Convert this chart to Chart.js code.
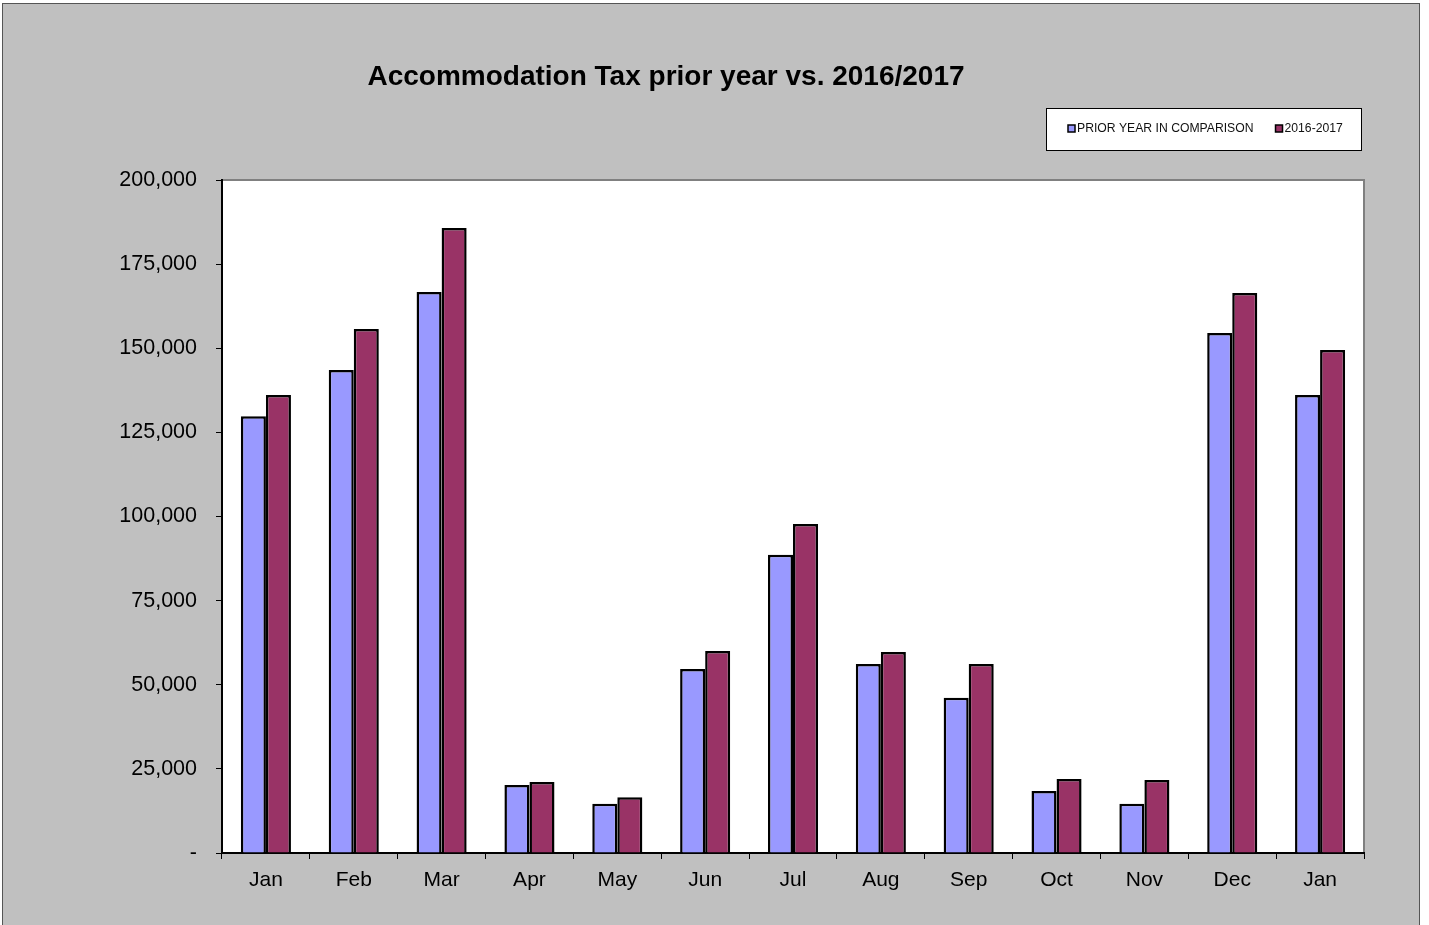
<!DOCTYPE html>
<html>
<head>
<meta charset="utf-8">
<script src="https://cdn.jsdelivr.net/npm/chart.js@4"></script>
<style>
  html, body { margin: 0; padding: 0; background: #fff; }
  #wrap { position: absolute; left: 0; top: 0; width: 1429px; height: 925px; }
</style>
</head>
<body>
<div id="wrap"><canvas id="taxchart" width="1429" height="925"></canvas></div>
<script>
const months = ['Jan','Feb','Mar','Apr','May','Jun','Jul','Aug','Sep','Oct','Nov','Dec','Jan'];
const priorYear = [129800, 143500, 166700, 20200, 14600, 54700, 88600, 56200, 46100, 18400, 14600, 154500, 136100];
const currentYear = [136100, 155700, 185700, 21100, 16600, 60000, 97800, 59700, 56200, 22000, 21700, 166400, 149500];
const seriesNames = ['PRIOR YEAR IN COMPARISON', '2016-2017'];
const chartTitle = 'Accommodation Tax prior year vs. 2016/2017';

const FONT = "Arial, 'Liberation Sans', sans-serif";

// frame, gray panel, white plot area
const backdrop = {
    id: 'backdrop',
    beforeDraw(chart) {
        const c = chart.ctx, a = chart.chartArea;
        c.save();
        c.fillStyle = '#ffffff';
        c.fillRect(0, 0, chart.width, chart.height);
        c.fillStyle = '#c0c0c0';
        c.fillRect(2, 3, 1417, 930);
        c.strokeStyle = '#555555';
        c.lineWidth = 1;
        c.strokeRect(2.5, 3.5, 1417, 930);
        c.fillStyle = '#ffffff';
        c.fillRect(a.left, a.top, a.right - a.left, a.bottom - a.top);
        c.strokeStyle = '#808080';
        c.lineWidth = 2;
        c.beginPath();
        c.moveTo(a.left, a.top);
        c.lineTo(a.right, a.top);
        c.lineTo(a.right, a.bottom);
        c.stroke();
        c.restore();
    }
};

// title and boxed legend
const titleLegend = {
    id: 'titleLegend',
    afterDraw(chart) {
        const c = chart.ctx;
        c.save();
        c.fillStyle = '#000';
        c.font = 'bold 28px ' + FONT;
        c.textAlign = 'center';
        c.textBaseline = 'middle';
        c.fillText(chartTitle, 666, 77);

        c.fillStyle = '#fff';
        c.fillRect(1046, 108, 315, 42);
        c.strokeStyle = '#000';
        c.lineWidth = 1;
        c.strokeRect(1046.5, 108.5, 315, 42);

        c.font = '12.2px ' + FONT;
        c.textAlign = 'left';
        let x = 1068;
        chart.data.datasets.forEach((ds, i) => {
            c.fillStyle = ds.backgroundColor;
            c.fillRect(x, 125, 7, 7);
            c.strokeStyle = '#000';
            c.lineWidth = 1.5;
            c.strokeRect(x, 125, 7, 7);
            c.fillStyle = '#111';
            c.fillText(ds.label, x + 9, 129);
            x += 9 + c.measureText(ds.label).width + 22;
        });
        c.restore();
    }
};

const ctx = document.getElementById('taxchart').getContext('2d');
const taxchart = new Chart(ctx, {
    type: 'bar',
    data: {
        labels: months,
        datasets: [{
            label: seriesNames[0],
            data: priorYear,
            backgroundColor: '#9999ff',
            borderColor: '#000',
            borderWidth: 2.5
        }, {
            label: seriesNames[1],
            data: currentYear,
            backgroundColor: '#993366',
            borderColor: '#000',
            borderWidth: 2.5
        }]
    },
    options: {
        responsive: false,
        animation: false,
        layout: { padding: { top: 180, left: 0, right: 65, bottom: 0 } },
        categoryPercentage: 0.57,
        barPercentage: 1.0,
        plugins: {
            legend: { display: false },
            title: { display: false },
            tooltip: { enabled: false }
        },
        scales: {
            x: {
                afterFit(scale) { scale.height = 72; },
                grid: { drawOnChartArea: false, drawTicks: true, tickLength: 6, color: '#000', offset: true },
                border: { display: true, color: '#000', width: 2 },
                ticks: { color: '#000', font: { family: FONT, size: 21 }, padding: 9, maxRotation: 0, autoSkip: false }
            },
            y: {
                min: 0,
                max: 200000,
                afterFit(scale) { scale.width = 222; },
                grid: { drawOnChartArea: false, drawTicks: true, tickLength: 6, color: '#000' },
                border: { display: true, color: '#000', width: 2 },
                ticks: {
                    stepSize: 25000,
                    color: '#000',
                    padding: 19,
                    font: { family: FONT, size: 21.5 },
                    callback: v => v === 0 ? '-' : v.toLocaleString('en-US')
                }
            }
        }
    },
    plugins: [backdrop, titleLegend]
});
</script>
</body>
</html>
